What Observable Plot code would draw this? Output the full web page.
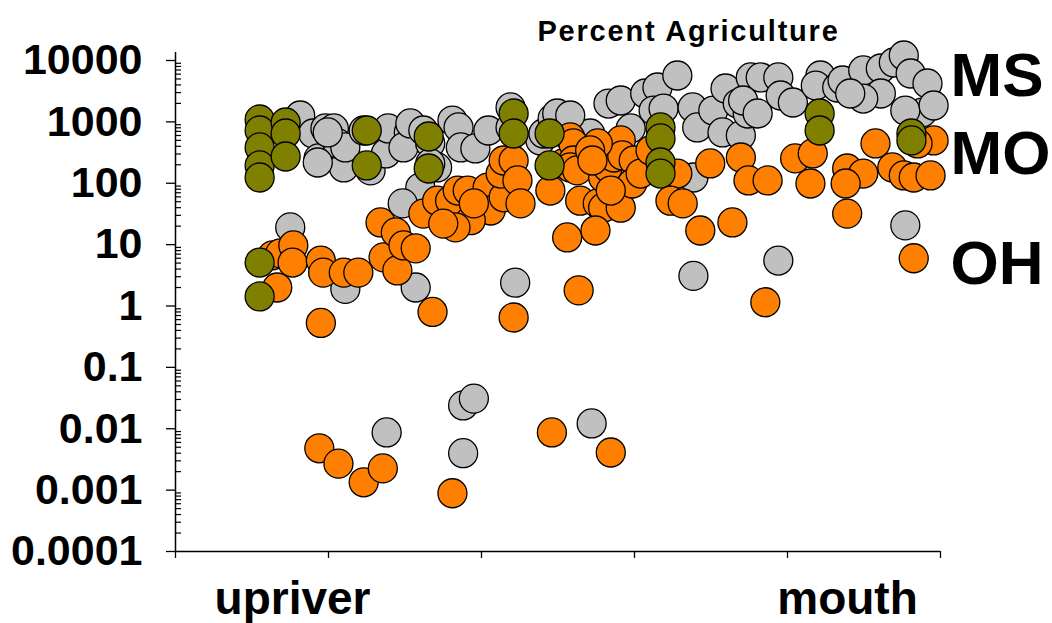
<!DOCTYPE html>
<html>
<head>
<meta charset="utf-8">
<script src="https://cdn.jsdelivr.net/npm/d3@7"></script>
<script src="https://cdn.jsdelivr.net/npm/@observablehq/plot@0.6"></script>
<style>
  html, body { margin: 0; padding: 0; background: #fff; }
</style>
</head>
<body>
<div id="chart"></div>
<script>
// ---- data: position along the river (0 = upriver, 100 = mouth) and concentration ----
const msX = [16.3,18.0,19.6,18.7,20.7,22.0,21.2,22.2,18.6,19.9,24.6,25.5,27.5,27.8,30.5,29.8,30.7,32.4,33.3,34.2,
  36.2,37.0,37.3,39.2,40.9,33.3,32.0,29.7,43.8,43.8,47.7,48.1,49.3,49.9,52.5,54.2,51.6,56.6,58.2,61.4,
  63.0,65.6,62.5,63.8,59.5,67.6,68.2,70.3,71.9,73.5,71.5,73.9,74.8,75.2,67.7,76.5,78.8,74.2,76.1,79.1,
  80.7,84.3,83.7,86.5,87.2,89.9,92.2,93.9,95.2,96.1,98.3,92.2,89.9,97.6,95.4,99.1,88.2,78.8,95.4,22.2,
  31.4,44.4,67.7,15.0,27.6,37.6,39.0,37.6,54.4];
const msY = [1270,647,781,254,781,181,445,383,218,672,724,162,306,781,672,383,942,724,445,181,
  1050,811,383,369,724,210,85,47,1720,811,498,647,1140,1370,557,647,1270,1990,2230,2900,
  3630,5700,1530,1650,781,1720,811,1530,3500,1990,672,601,1370,5290,124,5290,5290,2230,1370,2690,
  2070,5700,3910,3630,4720,6880,7410,9280,12060,6140,4220,2900,2400,1420,1530,1850,2900,5.5,20.6,1.9,
  2.0,2.4,3.1,19.1,0.0087,0.024,0.031,0.004,0.0122];

const ohX = [12.7,13.7,15.4,15.3,13.3,19.0,19.3,22.0,23.9,27.2,29.0,26.8,28.8,29.8,31.4,32.4,34.2,35.9,36.9,38.2,
  40.8,41.2,38.6,36.6,35.0,39.0,42.9,42.5,42.9,44.2,44.7,45.1,49.0,50.7,51.6,52.0,52.0,51.6,52.5,52.9,
  51.2,55.2,55.9,58.2,54.9,55.9,56.5,57.3,58.2,58.4,59.9,59.7,60.8,62.1,65.6,64.7,66.3,68.6,69.9,73.9,
  74.9,77.4,72.8,81.0,83.3,83.0,87.8,89.9,87.6,87.8,91.5,93.7,95.2,96.5,98.7,99.1,97.0,96.5,77.1,52.7,
  33.6,44.2,19.0,49.2,56.9,18.8,21.3,24.6,27.1,36.2,55.2,54.2,54.5,56.9];
const ohY = [6.7,7.2,9.7,5.1,2.0,5.5,3.5,3.5,3.5,6.2,3.8,23,15.8,9.7,8.7,32,52,52,76,76,
  85,36,25,19.1,22,47,59,144,235,235,111,47,76,210,557,445,235,181,162,52,
  13.1,47,40,40,17.0,124,181,263,498,284,235,99,144,342,144,52,47,17.0,210,263,
  111,111,23,254,306,99,174,144,99,32,445,181,134,124,134,498,445,6.0,1.15,1.8,
  0.8,0.65,0.53,0.0087,0.0041,0.0048,0.0027,0.00134,0.00226,0.00089,445,342,235,76];

const moX = [11.0,11.0,11.0,11.0,11.0,11.0,11.0,14.4,14.4,14.4,25.0,25.0,33.1,33.1,44.2,44.2,48.9,48.9,
  63.4,63.4,63.4,63.4,84.2,84.2,96.2,96.2];
const moY = [1094,724,383,195,124,5.1,1.43,977,646,273,724,195,578,174,1370,646,646,195,
  811,537,218,144,1370,724,646,498];

const yTickValues = [0.0001, 0.001, 0.01, 0.1, 1, 10, 100, 1000, 10000];
const xTickValues = [0, 20, 40, 60, 80, 100];
const seriesLabels = ["MS", "MO", "OH"];
const titleText = "Percent Agriculture";
const xEndLabels = ["upriver", "mouth"];

// ---- build tables ----
const toRows = (xs, ys) => xs.map((x, i) => ({x, y: ys[i]}));
const ms = toRows(msX, msY);
const oh = toRows(ohX, ohY);
const mo = toRows(moX, moY);
const minorTicks = yTickValues.slice(0, -1).flatMap(t => [2,3,4,5,6,7,8,9].map(m => +(t * m).toPrecision(2)));

const FONT = "'Liberation Sans', Arial, Helvetica, sans-serif";
const dotStyle = {x: "x", y: "y", r: 14.5, stroke: "#000", strokeWidth: 1.3};
const labelStyle = {frameAnchor: "top-right", dx: 10, textAnchor: "start", lineAnchor: "bottom", fontSize: 62, fontWeight: "bold", fill: "#000"};

const chart = Plot.plot({
  width: 1052,
  height: 623,
  marginTop: 60,
  marginBottom: 72,
  marginLeft: 175,
  marginRight: 112,
  style: {fontFamily: FONT, background: "#fff", color: "#000"},
  x: {domain: [0, 100]},
  y: {type: "log", domain: [1e-4, 1e4]},
  marks: [
    Plot.axisY(minorTicks, {tickSize: -6, tickFormat: () => "", label: null, strokeWidth: 1.2}),
    Plot.axisY(yTickValues, {tickSize: 9, tickPadding: 24, tickFormat: d => String(d), fontSize: 43, fontWeight: "bold", label: null, strokeWidth: 1.3}),
    Plot.axisX(xTickValues, {tickSize: 7, tickFormat: () => "", label: null, strokeWidth: 1.3}),
    Plot.ruleX([0], {insetTop: -8, strokeWidth: 1.5}),
    Plot.ruleY([1e-4], {strokeWidth: 1.5}),
    Plot.dot(ms, {...dotStyle, fill: "#C0C0C0"}),
    Plot.dot(oh, {...dotStyle, fill: "#FF8000"}),
    Plot.dot(mo, {...dotStyle, fill: "#808000"}),
    Plot.text([titleText], {frameAnchor: "top-left", dx: 513, dy: -20, textAnchor: "middle", lineAnchor: "bottom", fontSize: 29, fontWeight: "bold", fill: "#000"}),
    Plot.text([xEndLabels[0]], {frameAnchor: "bottom-left", dx: 117, dy: 62, textAnchor: "middle", lineAnchor: "bottom", fontSize: 46, fontWeight: "bold", fill: "#000"}),
    Plot.text([xEndLabels[1]], {frameAnchor: "bottom-left", dx: 672, dy: 62, textAnchor: "middle", lineAnchor: "bottom", fontSize: 46, fontWeight: "bold", fill: "#000"}),
    Plot.text([seriesLabels[0]], {...labelStyle, dy: 35}),
    Plot.text([seriesLabels[1]], {...labelStyle, dy: 113}),
    Plot.text([seriesLabels[2]], {...labelStyle, dy: 223})
  ]
});

d3.select(chart).selectAll("text").filter(function() { return this.textContent === titleText; })
  .style("letter-spacing", "1.8px");

document.getElementById("chart").appendChild(chart);
</script>
</body>
</html>
